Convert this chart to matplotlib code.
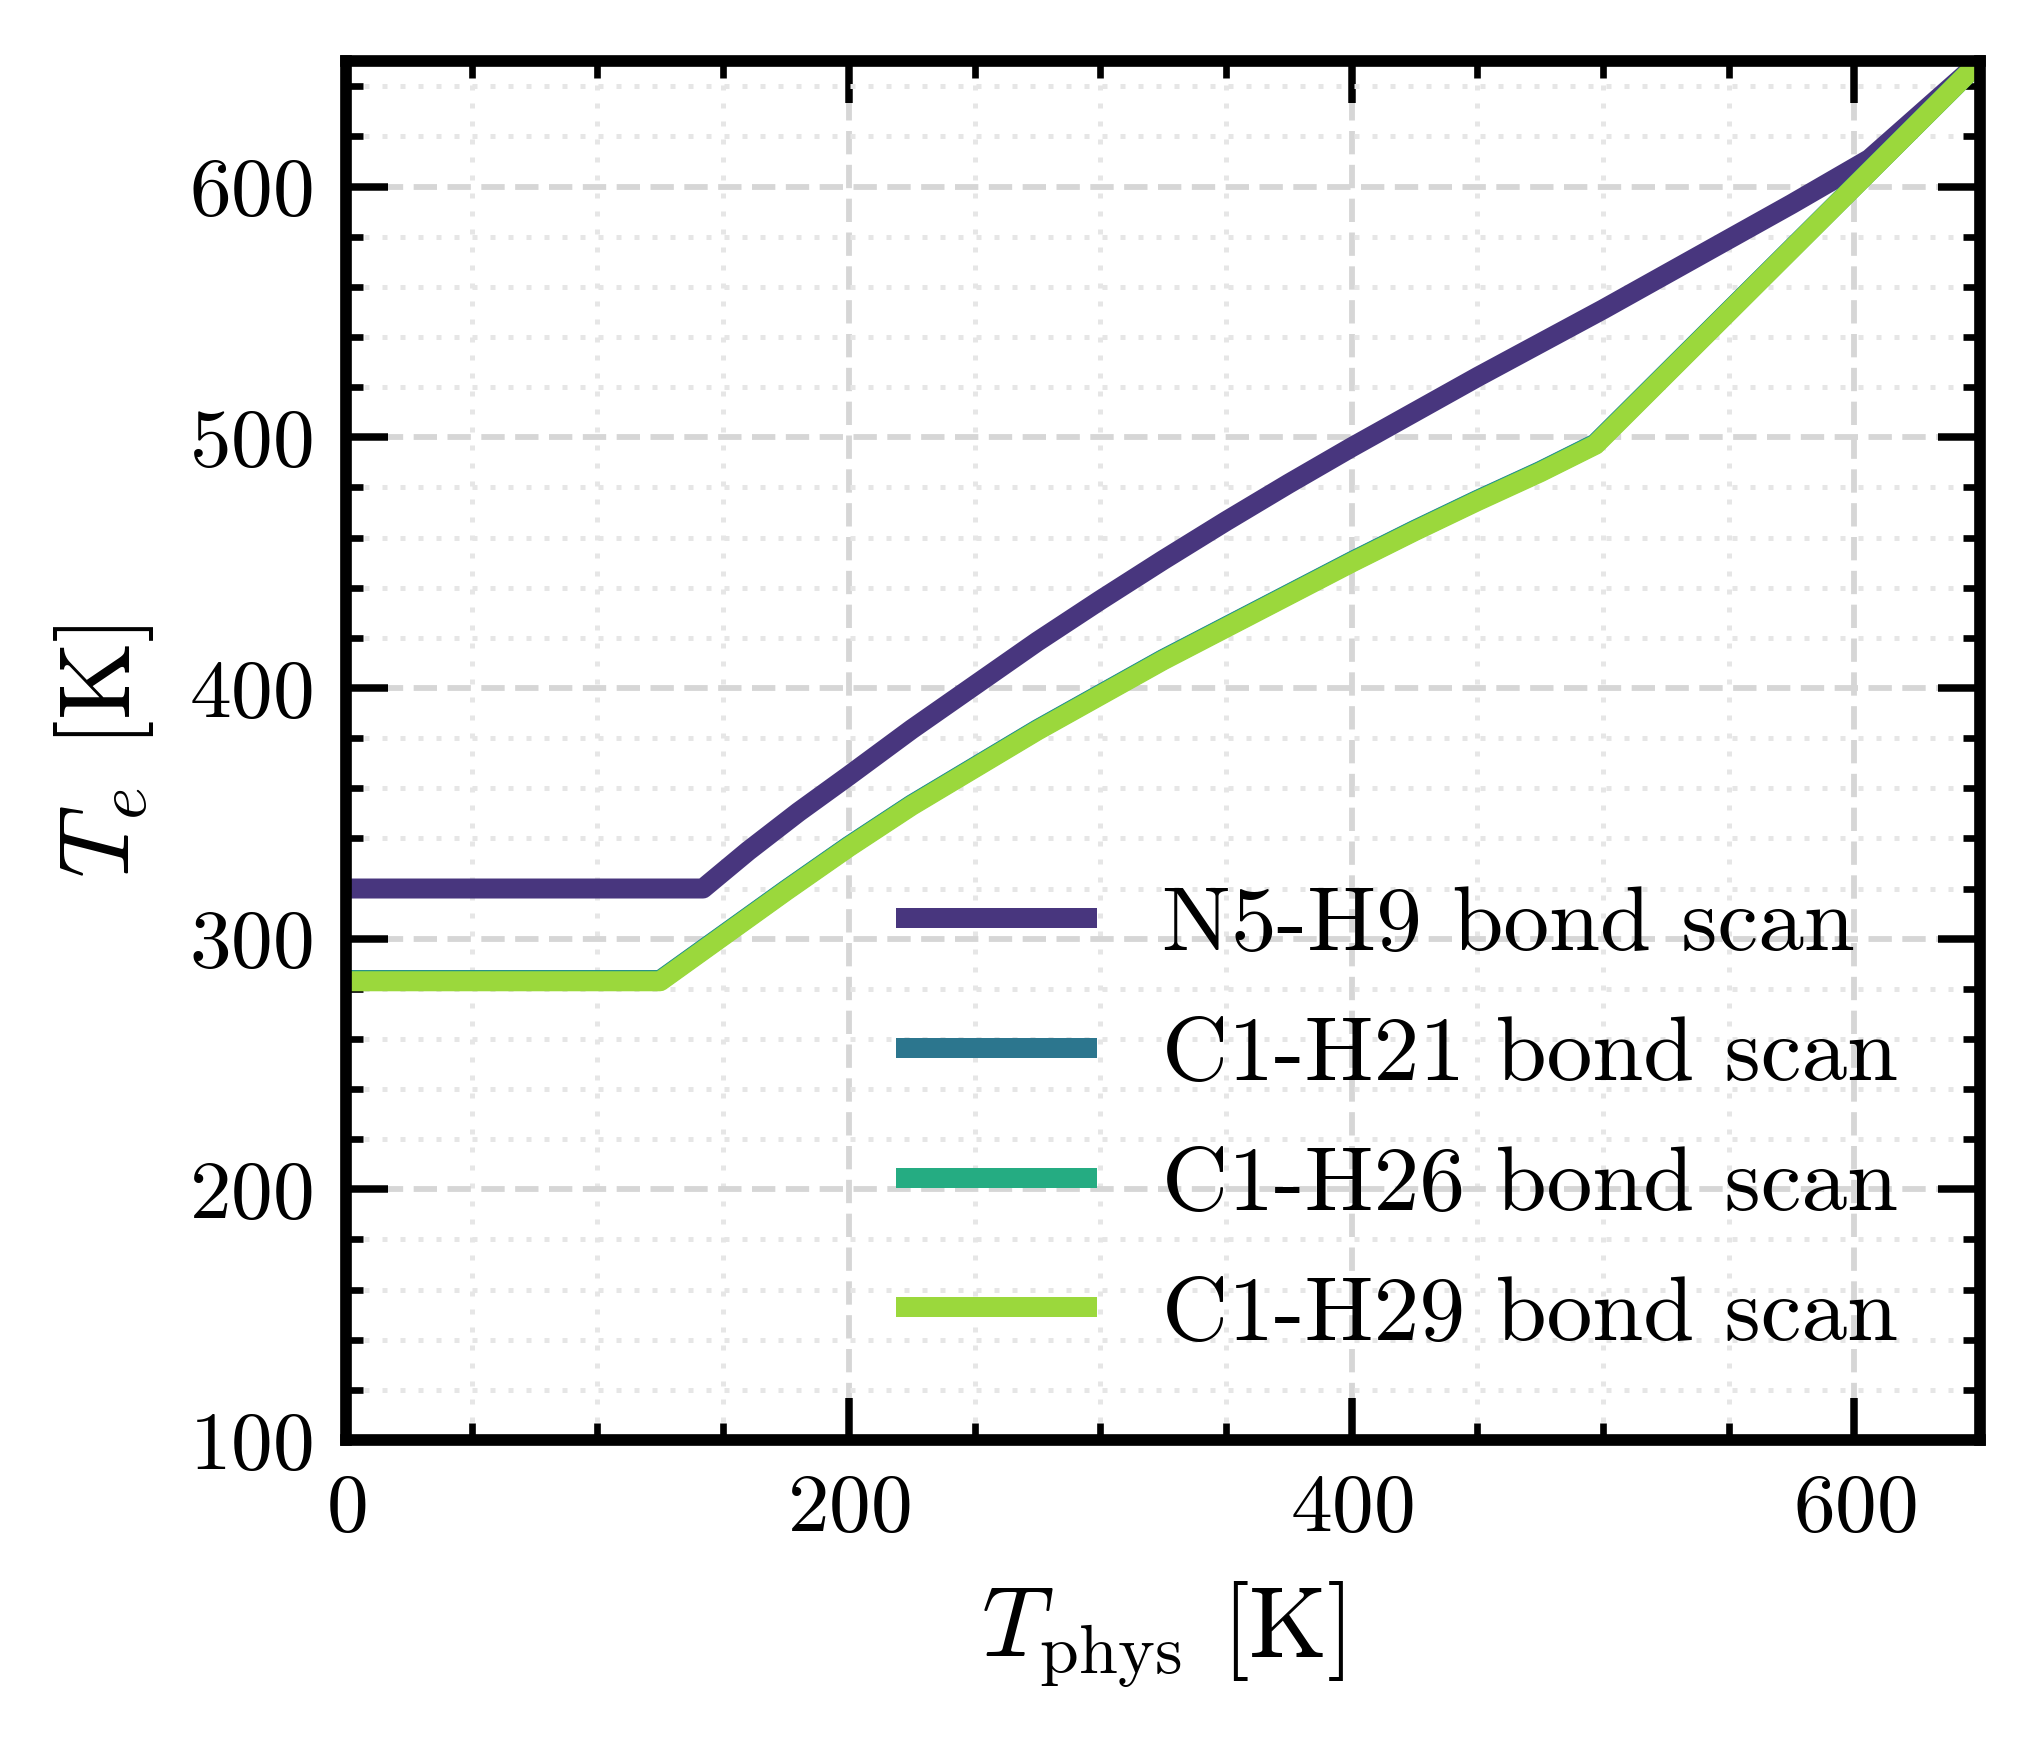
import matplotlib

matplotlib.use("Agg")

import matplotlib.pyplot as plt  # noqa: E402
from matplotlib.ticker import MultipleLocator  # noqa: E402

plt.rcParams.update({
    "font.family": "serif",
    "font.serif": ["cmr10"],
    "mathtext.fontset": "cm",
    "axes.unicode_minus": False,
    "axes.formatter.use_mathtext": True,
})

# values
n5_h9_t = [0, 142, 160, 180, 200, 225, 250, 275, 300, 325, 350, 375, 400,
           425, 450, 475, 500, 525, 550, 575, 606, 650]
n5_h9_te = [320, 320, 335, 350.5, 365, 383.5, 401, 418.5, 435, 451, 466.5,
            481.5, 496, 510, 524, 537.5, 551, 565, 579, 593, 611, 650]

c1_t = [0, 125, 150, 175, 200, 225, 250, 275, 300, 325, 350, 375, 400, 425,
        450, 475, 497, 650]
c1_h21_te = [283.5, 283.5, 301.5, 319.5, 337, 353.5, 368.5, 383.5, 397.5,
             411.5, 424.5, 437.5, 450.5, 463, 475, 486.5, 497.5, 650]
c1_h26_te = [283.3, 283.3, 301.3, 319.3, 336.8, 353.3, 368.3, 383.3, 397.3,
             411.3, 424.3, 437.3, 450.3, 462.8, 474.8, 486.3, 497.3, 650]
c1_h29_te = [283, 283, 301, 319, 336.5, 353, 368, 383, 397, 411, 424, 437,
             450, 462.5, 474.5, 486, 497, 650]

series = [
    ("N5-H9 bond scan", n5_h9_t, n5_h9_te, "#48367e"),
    ("C1-H21 bond scan", c1_t, c1_h21_te, "#2c768e"),
    ("C1-H26 bond scan", c1_t, c1_h26_te, "#25ac82"),
    ("C1-H29 bond scan", c1_t, c1_h29_te, "#9bd83c"),
]

fig = plt.figure(figsize=(2039 / 600, 1740 / 600), dpi=600)
ax = fig.add_axes([0.1697, 0.1724, 0.9711 - 0.1697, 0.9648 - 0.1724])

for label, xs, ys, color in series:
    ax.plot(xs, ys, color=color, linewidth=2.4, label=label,
            solid_joinstyle="round", solid_capstyle="butt")

ax.set_xlim(0, 650)
ax.set_ylim(100, 650)
ax.xaxis.set_major_locator(MultipleLocator(200))
ax.xaxis.set_minor_locator(MultipleLocator(50))
ax.yaxis.set_major_locator(MultipleLocator(100))
ax.yaxis.set_minor_locator(MultipleLocator(20))

ax.grid(which="major", color="#d6d6d6", linestyle=(0, (4.0, 1.8)), linewidth=0.7)
ax.grid(which="minor", color="#e6e6e6", linestyle=(0, (1.0, 2.6)), linewidth=0.6)
ax.set_axisbelow(True)

for spine in ax.spines.values():
    spine.set_linewidth(1.4)
    spine.set_color("black")
ax.tick_params(which="both", direction="in", top=True, right=True, labelsize=10)
ax.tick_params(which="major", length=5, width=0.9, pad=4)
ax.tick_params(which="minor", length=2, width=0.8)

ax.set_xlabel(r"$T_{\rm phys}$ [K]", fontsize=12)
ax.set_ylabel(r"$T_e$ [K]", fontsize=12)

ax.legend(loc="lower right", frameon=False, fontsize=11, handlelength=2.2,
          handletextpad=0.7, labelspacing=0.52)

fig.savefig("out.png", dpi=600)
